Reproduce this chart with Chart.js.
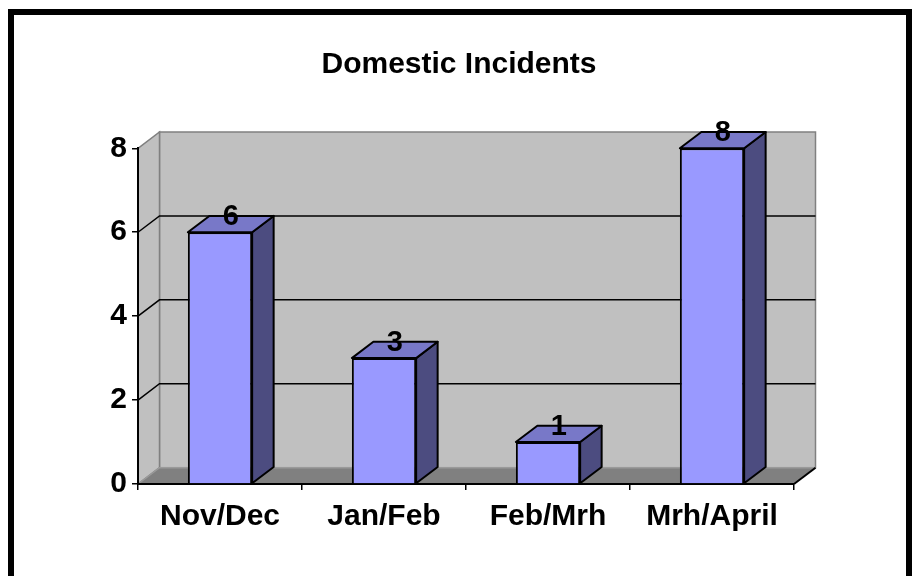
<!DOCTYPE html>
<html>
<head>
<meta charset="utf-8">
<script src="https://cdn.jsdelivr.net/npm/chart.js@4/dist/chart.umd.min.js"></script>
<style>
  body { margin: 0; background: #fff; }
  canvas { display: block; }
</style>
</head>
<body>
<canvas id="chart" width="918" height="576"></canvas>
<script>
// data
const categories = ['Nov/Dec', 'Jan/Feb', 'Feb/Mrh', 'Mrh/April'];
const incidents = [6, 3, 1, 8];
const yMax = 8;
const yStep = 2;

// fake 3d depth
const DX = 21.5, DY = -16.3;
const FONT = "'Liberation Sans', Arial, sans-serif";

const frame3d = {
  id: 'frame3d',
  beforeDraw: (chart) => {
    const ctx = chart.ctx, a = chart.chartArea, y = chart.scales.y;
    ctx.save();
    ctx.fillStyle = 'white';
    ctx.fillRect(0, 0, chart.width, chart.height);
    // outer border
    ctx.strokeStyle = 'black';
    ctx.lineWidth = 6;
    ctx.strokeRect(11, 12, 898, 600);

    const L = a.left, R = a.right, T = a.top, B = a.bottom;
    // back wall
    ctx.fillStyle = '#c0c0c0';
    ctx.strokeStyle = '#808080';
    ctx.lineWidth = 1.5;
    ctx.fillRect(L + DX, T + DY, R - L, B - T);
    ctx.strokeRect(L + DX, T + DY, R - L, B - T);
    // side wall
    ctx.beginPath();
    ctx.moveTo(L, T); ctx.lineTo(L + DX, T + DY);
    ctx.lineTo(L + DX, B + DY); ctx.lineTo(L, B);
    ctx.closePath();
    ctx.fill(); ctx.stroke();
    // floor
    ctx.fillStyle = '#808080';
    ctx.beginPath();
    ctx.moveTo(L, B); ctx.lineTo(L + DX, B + DY);
    ctx.lineTo(R + DX, B + DY); ctx.lineTo(R, B);
    ctx.closePath();
    ctx.fill();
    ctx.strokeStyle = '#9a9a9a';
    ctx.beginPath();
    ctx.moveTo(L, B); ctx.lineTo(L + DX, B + DY); ctx.lineTo(R + DX, B + DY);
    ctx.stroke();
    ctx.strokeStyle = 'black';
    ctx.lineWidth = 2;
    ctx.beginPath();
    ctx.moveTo(R + DX, B + DY); ctx.lineTo(R, B);
    ctx.stroke();
    // grid lines on walls
    ctx.lineWidth = 1.5;
    for (let v = yStep; v < yMax; v += yStep) {
      const py = y.getPixelForValue(v);
      ctx.beginPath();
      ctx.moveTo(L, py); ctx.lineTo(L + DX, py + DY); ctx.lineTo(R + DX, py + DY);
      ctx.stroke();
    }
    ctx.restore();
  },
  beforeDatasetsDraw: (chart) => {
    const ctx = chart.ctx;
    ctx.save();
    ctx.strokeStyle = 'black';
    ctx.lineWidth = 2;
    ctx.lineJoin = 'round';
    chart.getDatasetMeta(0).data.forEach((bar) => {
      const l = bar.x - bar.width / 2, r = bar.x + bar.width / 2;
      const t = bar.y, b = bar.base;
      // side
      ctx.fillStyle = '#4c4c80';
      ctx.beginPath();
      ctx.moveTo(r, t); ctx.lineTo(r + DX, t + DY);
      ctx.lineTo(r + DX, b + DY); ctx.lineTo(r, b);
      ctx.closePath(); ctx.fill(); ctx.stroke();
      // top
      ctx.fillStyle = '#7878c8';
      ctx.beginPath();
      ctx.moveTo(l, t); ctx.lineTo(l + DX, t + DY);
      ctx.lineTo(r + DX, t + DY); ctx.lineTo(r, t);
      ctx.closePath(); ctx.fill(); ctx.stroke();
    });
    ctx.restore();
  },
  afterDatasetsDraw: (chart) => {
    const ctx = chart.ctx;
    ctx.save();
    ctx.fillStyle = 'black';
    ctx.font = 'bold 29px ' + FONT;
    ctx.textAlign = 'center';
    ctx.textBaseline = 'middle';
    chart.getDatasetMeta(0).data.forEach((bar, i) => {
      ctx.fillText(String(incidents[i]), bar.x + DX / 2, bar.y + DY + 1);
    });
    ctx.restore();
  }
};

new Chart(document.getElementById('chart'), {
  type: 'bar',
  data: {
    labels: categories,
    datasets: [{
      data: incidents,
      backgroundColor: '#9999ff',
      borderColor: 'black',
      borderWidth: 2,
      barPercentage: 0.392,
      categoryPercentage: 1
    }]
  },
  options: {
    responsive: false,
    animation: false,
    devicePixelRatio: 1,
    layout: { padding: 0 },
    plugins: {
      legend: { display: false },
      tooltip: { enabled: false },
      title: {
        display: true,
        text: 'Domestic Incidents',
        color: 'black',
        font: { family: FONT, size: 30, weight: 'bold', lineHeight: 1.2 },
        padding: { top: 47, bottom: 65.3 }
      }
    },
    scales: {
      x: {
        grid: { drawOnChartArea: false, color: 'black', tickLength: 6, lineWidth: 1.5 },
        border: { color: 'black', width: 2 },
        ticks: { color: 'black', padding: 9, font: { family: FONT, size: 30, weight: 'bold' } },
        afterFit: (s) => { s.height = 92; }
      },
      y: {
        min: 0,
        max: yMax,
        grid: { drawOnChartArea: false, color: 'black', tickLength: 6, lineWidth: 1.5 },
        border: { color: 'black', width: 2 },
        ticks: { stepSize: yStep, color: 'black', padding: 5, font: { family: FONT, size: 30, weight: 'bold' } },
        afterFit: (s) => { s.width = 138; }
      },
      // keeps room on the right so the title stays centred on the page
      pad: {
        position: 'right',
        grid: { display: false },
        ticks: { display: false },
        border: { display: false },
        afterFit: (s) => { s.width = 124; }
      }
    }
  },
  plugins: [frame3d]
});
</script>
</body>
</html>
